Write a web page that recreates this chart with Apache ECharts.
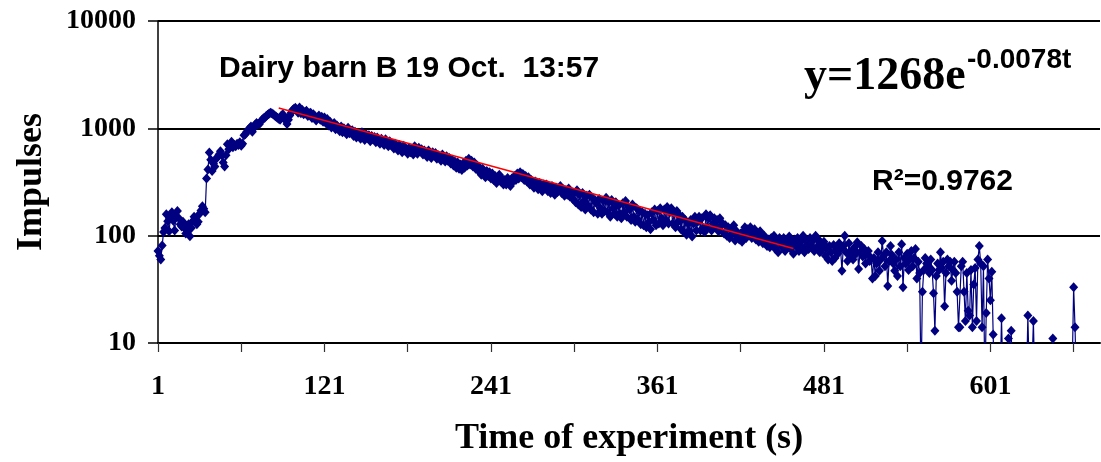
<!DOCTYPE html>
<html>
<head>
<meta charset="utf-8">
<title>Dairy barn B</title>
<script src="https://cdn.jsdelivr.net/npm/echarts@6.0.0/dist/echarts.min.js"></script>
<style>
  html, body { margin: 0; padding: 0; background: #fff; }
  #chart { width: 1101px; height: 462px; }
</style>
</head>
<body>
<div id="chart"></div>
<script>
// time axis: 1..680 s
const categories = Array.from({ length: 680 }, (_, i) => String(i + 1));

// impulses per second (values < 10 fall below the axis)
const impulses = [
  72, 65, 60, 81, 108, 118, 158, 136, 110, 150,
  165, 138, 112, 150, 170, 145, 128, 122, 135, 118,
  105, 112, 128, 99, 118, 136, 150, 142, 128, 135,
  160, 172, 188, 178, 165, 340, 413, 594, 510, 400,
  470, 440, 520, 545, 570, 610, 560, 480, 440, 560,
  710, 640, 690, 750, 665, 700, 680, 720, 700, 740,
  690, 720, 860, 880, 930, 970, 1000, 1040, 930, 1000,
  1080, 1120, 1100, 1090, 1150, 1200, 1240, 1256, 1300, 1340,
  1370, 1400, 1380, 1350, 1320, 1290, 1256, 1230, 1205, 1320,
  1350, 1280, 1180, 1100, 1200, 1320, 1400, 1480, 1520, 1556,
  1500, 1400, 1560, 1380, 1480, 1350, 1420, 1460, 1300, 1380,
  1400, 1250, 1350, 1300, 1180, 1260, 1320, 1200, 1280, 1150,
  1260, 1120, 1220, 1060, 1150, 1020, 1080, 1120, 980, 1060,
  1020, 940, 1040, 920, 1000, 960, 880, 1010, 900, 950,
  960, 850, 930, 820, 900, 880, 800, 920, 860, 780,
  880, 820, 860, 760, 850, 790, 830, 740, 820, 780,
  720, 800, 760, 700, 790, 740, 680, 760, 700, 720,
  650, 720, 680, 620, 700, 660, 600, 690, 620, 640,
  580, 660, 600, 640, 570, 680, 620, 580, 660, 610,
  640, 570, 620, 600, 540, 620, 580, 530, 600, 560,
  590, 520, 560, 540, 500, 570, 520, 490, 550, 500,
  530, 470, 510, 450, 490, 430, 480, 420, 460, 410,
  470, 430, 500, 450, 520, 460, 500, 440, 480, 420,
  450, 400, 430, 370, 420, 380, 350, 400, 360, 390,
  340, 380, 330, 360, 310, 350, 370, 320, 340, 300,
  330, 300, 345, 310, 290, 340, 320, 360, 330, 380,
  340, 390, 350, 375, 330, 360, 320, 350, 300, 330,
  310, 280, 320, 290, 270, 310, 285, 260, 300, 275,
  300, 260, 285, 250, 290, 265, 240, 280, 255, 270,
  290, 250, 270, 235, 265, 240, 275, 230, 255, 220,
  250, 205, 265, 195, 240, 185, 250, 210, 175, 235,
  190, 240, 175, 225, 165, 215, 200, 160, 220, 180,
  160, 210, 170, 225, 165, 205, 150, 215, 180, 160,
  205, 150, 190, 160, 145, 200, 165, 210, 150, 185,
  175, 140, 195, 150, 135, 180, 140, 170, 128, 165,
  125, 160, 120, 155, 135, 115, 165, 140, 175, 125,
  170, 130, 180, 145, 125, 175, 140, 185, 130, 165,
  180, 130, 160, 120, 170, 135, 155, 115, 150, 108,
  140, 102, 130, 110, 140, 98, 130, 150, 112, 135,
  150, 112, 145, 118, 108, 158, 120, 145, 155, 112,
  130, 145, 120, 140, 110, 145, 125, 130, 105, 125,
  100, 120, 95, 115, 105, 125, 90, 110, 100, 92,
  105, 88, 110, 120, 95, 115, 105, 120, 95, 108,
  115, 92, 105, 88, 110, 95, 85, 100, 90, 80,
  92, 78, 95, 82, 100, 75, 90, 70, 95, 85,
  78, 95, 72, 90, 80, 98, 75, 88, 68, 92,
  80, 95, 72, 88, 78, 100, 70, 90, 82, 75,
  95, 80, 90, 72, 100, 78, 92, 70, 85, 75,
  88, 65, 78, 60, 80, 70, 58, 82, 62, 75,
  68, 85, 75, 47, 80, 100, 70, 58, 85, 66,
  72, 60, 78, 68, 87, 49, 70, 80, 64, 75,
  55, 68, 72, 58, 62, 40, 62, 42, 55, 70,
  47, 60, 89, 65, 52, 70, 34, 58, 80, 66,
  55, 47, 60, 42, 70, 52, 83, 33, 62, 55,
  68, 48, 60, 72, 52, 62, 75, 40, 57, 45,
  4, 30, 48, 62, 55, 51, 45, 60, 48, 29,
  13, 42, 55, 48, 70, 50, 57, 22, 45, 60,
  52, 57, 38, 48, 57, 45, 30, 14, 14, 52,
  57, 30, 16, 45, 20, 18, 48, 14, 35, 50,
  16, 60, 80, 55, 14, 52, 4, 19, 60, 40,
  25, 46, 12, 3, 5, 8, 6, 4, 17, 5,
  3, 6, 4, 11, 5, 13, 4, 3, 6, 2,
  5, 3, 4, 6, 3, 5, 4, 18, 5, 3,
  6, 16, 4, 3, 5, 2, 4, 6, 3, 5,
  4, 3, 6, 2, 5, 11, 4, 3, 5, 2,
  4, 6, 3, 5, 2, 4, 3, 5, 4, 6,
  33, 14, 4, 3, 5, 2, 4, 3, 5, 2,
  4, 3, 5, 2, 4, 3, 5, 2, 4, 3
];

// exponential trend line end points [category index, value]
const trendStart = [87, 1550];
const trendEnd = [458, 76];

const yTicks = [10, 100, 1000, 10000];

const serif = '"Liberation Serif", "Times New Roman", serif';
const sans = '"Liberation Sans", Arial, sans-serif';

const chart = echarts.init(document.getElementById('chart'), null, { renderer: 'canvas' });

const option = {
  backgroundColor: '#fff',
  animation: false,
  grid: { left: 158, right: 1, top: 21, bottom: 118, containLabel: false },
  xAxis: {
    type: 'category',
    data: categories,
    boundaryGap: false,
    axisLine: { show: true, lineStyle: { color: '#000', width: 2 } },
    axisTick: {
      show: true,
      length: 9,
      interval: (idx) => idx % 60 === 0,
      lineStyle: { color: '#333', width: 1.2 }
    },
    axisLabel: {
      interval: (idx) => idx % 120 === 0,
      margin: 30,
      color: '#000',
      fontFamily: serif,
      fontWeight: 'bold',
      fontSize: 28
    },
    splitLine: { show: false },
    name: 'Time of experiment (s)',
    nameLocation: 'middle',
    nameGap: 78,
    nameTextStyle: { color: '#000', fontFamily: serif, fontWeight: 'bold', fontSize: 36 }
  },
  yAxis: {
    type: 'log',
    logBase: 10,
    min: yTicks[0],
    max: yTicks[yTicks.length - 1],
    axisLine: { show: true, lineStyle: { color: '#000', width: 1.5 } },
    axisTick: { show: true, length: 10, lineStyle: { color: '#000', width: 1.5 } },
    minorTick: { show: false },
    axisLabel: {
      margin: 22,
      color: '#000',
      fontFamily: serif,
      fontWeight: 'bold',
      fontSize: 28,
      formatter: (v) => String(Math.round(v))
    },
    splitLine: { show: true, lineStyle: { color: '#000', width: 2 } },
    name: 'Impulses',
    nameLocation: 'middle',
    nameGap: 108,
    nameTextStyle: { color: '#000', fontFamily: serif, fontWeight: 'bold', fontSize: 36 }
  },
  series: [
    {
      name: 'Impulses',
      type: 'line',
      data: impulses,
      symbol: 'diamond',
      symbolSize: [9, 10],
      showAllSymbol: true,
      clip: true,
      silent: true,
      itemStyle: { color: '#000080' },
      lineStyle: { color: '#000080', width: 1.2 },
      z: 2
    },
    {
      name: 'Trend',
      type: 'line',
      data: [trendStart, trendEnd],
      symbol: 'none',
      silent: true,
      lineStyle: { color: '#ff0000', width: 1.6 },
      z: 3
    }
  ],
  graphic: [
    {
      type: 'text', x: 219, y: 69,
      style: { text: 'Dairy barn B 19 Oct.  13:57', fill: '#000', font: 'bold 30px ' + sans, align: 'left', verticalAlign: 'middle' }
    },
    {
      type: 'text', x: 804, y: 77,
      style: { text: 'y=1268e', fill: '#000', font: 'bold 46px ' + serif, align: 'left', verticalAlign: 'middle' }
    },
    {
      type: 'text', x: 967, y: 60,
      style: { text: '-0.0078t', fill: '#000', font: 'bold 28px ' + sans, align: 'left', verticalAlign: 'middle' }
    },
    {
      type: 'text', x: 872, y: 182,
      style: { text: 'R²=0.9762', fill: '#000', font: 'bold 30px ' + sans, align: 'left', verticalAlign: 'middle' }
    }
  ]
};

chart.setOption(option);
</script>
</body>
</html>
